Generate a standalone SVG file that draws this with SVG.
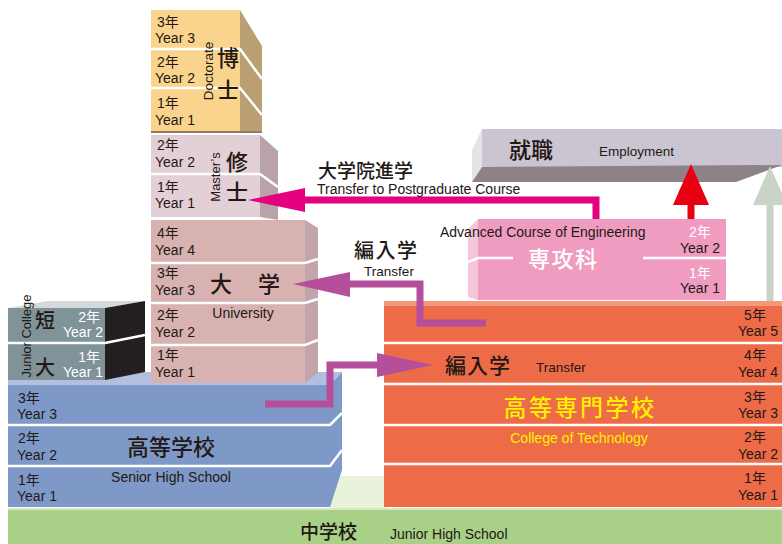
<svg xmlns="http://www.w3.org/2000/svg" width="782" height="544" viewBox="0 0 782 544">
<defs>
<style>
.t{font-family:"Liberation Sans","Noto Sans CJK JP",sans-serif;fill:#231815}
.y{font-size:14px}
.e{font-size:14px}
.j{font-family:"Noto Sans CJK JP",sans-serif;fill:#231815;font-weight:500}
.w{fill:#fff}
.d{stroke:#fff;stroke-width:2.5;fill:none}
.arr{fill:none;stroke-width:7;stroke-linejoin:miter}
</style>
</defs>
<rect width="782" height="544" fill="#fff"/>

<g id="junior-high">
<rect x="330" y="476" width="56" height="34" fill="#e9f2da"/>
<rect x="8" y="509" width="774" height="35" fill="#a9d087"/>
<rect x="8" y="508" width="774" height="2" fill="#d6e8c6"/>
<text class="j" x="300" y="539" font-size="19">中学校</text>
<text class="t e" x="390" y="539">Junior High School</text>
</g>

<g id="senior-high">
<polygon points="8,372 342,372 330,385 8,385" fill="#b3bfe0"/>
<rect x="8" y="385" width="322" height="122" fill="#7e98c7"/>
<polygon points="330,385 342,372 342,470 330,507" fill="#7e98c7"/>
<polyline class="d" points="8,425 330,425 342,413"/>
<polyline class="d" points="8,466 330,466 342,450"/>
<text class="t y" x="18" y="403">3年</text>
<text class="t y" x="17" y="419">Year 3</text>
<text class="t y" x="18" y="443">2年</text>
<text class="t y" x="17" y="460">Year 2</text>
<text class="t y" x="18" y="485">1年</text>
<text class="t y" x="17" y="501">Year 1</text>
<text class="j" x="171" y="455" font-size="22" text-anchor="middle">高等学校</text>
<text class="t e" x="171" y="482" text-anchor="middle">Senior High School</text>
</g>

<g id="junior-college">
<polygon points="8,308 105,308 145,301 48,301" fill="#d3d9db"/>
<rect x="8" y="308" width="97" height="72" fill="#7f9398"/>
<polygon points="105,308 145,301 145,372 105,380" fill="#231f20"/>
<line class="d" x1="8" y1="343" x2="105" y2="343"/>
<line class="d" x1="105" y1="343" x2="145" y2="335"/>
<text class="j" x="35" y="328" font-size="20">短</text>
<text class="j" x="35" y="375" font-size="20">大</text>
<text class="t y w" x="100" y="322" text-anchor="end">2年</text>
<text class="t y w" x="103" y="337" text-anchor="end">Year 2</text>
<text class="t y w" x="100" y="362" text-anchor="end">1年</text>
<text class="t y w" x="103" y="377" text-anchor="end">Year 1</text>
<text class="t" x="31" y="336" font-size="13" text-anchor="middle" transform="rotate(-90 31 336)">Junior College</text>
</g>

<g id="university">
<rect x="151" y="220" width="154" height="163" fill="#d7b2b1"/>
<polygon points="305,220 318,228 318,373 305,383" fill="#c2a5aa"/>
<polyline class="d" points="151,263 305,263 318,259"/>
<polyline class="d" points="151,303 305,303 318,299"/>
<polyline class="d" points="151,345 305,345 318,340"/>
<text class="t y" x="157" y="238">4年</text>
<text class="t y" x="155" y="255">Year 4</text>
<text class="t y" x="157" y="278">3年</text>
<text class="t y" x="155" y="295">Year 3</text>
<text class="t y" x="157" y="320">2年</text>
<text class="t y" x="155" y="337">Year 2</text>
<text class="t y" x="157" y="360">1年</text>
<text class="t y" x="155" y="377">Year 1</text>
<text class="j" x="210" y="292" font-size="22">大</text>
<text class="j" x="258" y="292" font-size="22">学</text>
<text class="t e" x="243" y="318" text-anchor="middle">University</text>
</g>

<g id="masters">
<rect x="151" y="135" width="109" height="82" fill="#e3cfd6"/>
<polygon points="260,135 278,151 278,220 260,217" fill="#b9a2a8"/>
<polyline class="d" points="151,174 260,174 278,187"/>
<text class="t y" x="157" y="150">2年</text>
<text class="t y" x="155" y="167">Year 2</text>
<text class="t y" x="157" y="192">1年</text>
<text class="t y" x="155" y="208">Year 1</text>
<text class="t" x="220" y="177" font-size="13" text-anchor="middle" transform="rotate(-90 220 177)">Master’s</text>
<text class="j" x="237" y="170" font-size="22" text-anchor="middle">修</text>
<text class="j" x="237" y="200" font-size="22" text-anchor="middle">士</text>
</g>

<g id="doctorate">
<rect x="151" y="10" width="89" height="122" fill="#fad48c"/>
<polygon points="240,10 262,46 262,132 240,132" fill="#b99f72"/>
<rect x="151" y="131" width="111" height="2" fill="#8f7d5e"/>
<polyline class="d" points="151,49 240,49 262,79"/>
<polyline class="d" points="151,88 240,88 262,115"/>
<text class="t y" x="157" y="27">3年</text>
<text class="t y" x="155" y="43">Year 3</text>
<text class="t y" x="157" y="67">2年</text>
<text class="t y" x="155" y="83">Year 2</text>
<text class="t y" x="157" y="108">1年</text>
<text class="t y" x="155" y="125">Year 1</text>
<text class="t" x="213" y="71" font-size="13.5" text-anchor="middle" transform="rotate(-90 213 71)">Doctorate</text>
<text class="j" x="228" y="66" font-size="22" text-anchor="middle">博</text>
<text class="j" x="228" y="98" font-size="22" text-anchor="middle">士</text>
</g>

<g id="employment">
<rect x="482" y="129" width="300" height="38" fill="#cbc4d1"/>
<polygon points="482,129 472,150 472,182 482,167" fill="#e5e2e8"/>
<polygon points="482,167 782,165 736,182 472,182" fill="#8e8289"/>
<text class="j" x="509" y="158" font-size="22">就職</text>
<text class="t" x="599" y="156" font-size="13.5">Employment</text>
</g>

<g id="advanced-course">
<polygon points="468,229 478,219 478,300 468,297" fill="#f5c6da"/>
<rect x="478" y="219" width="248" height="81" fill="#f09cc1"/>
<polyline class="d" points="468,262 478,258 513,258"/>
<line class="d" x1="643" y1="258" x2="726" y2="258"/>
<text class="t" x="440" y="237" font-size="14">Advanced Course of Engineering</text>
<text class="j w" x="528" y="267" font-size="22" letter-spacing="1.5">専攻科</text>
<text class="t y w" x="700" y="237" text-anchor="middle">2年</text>
<text class="t y" x="720" y="253" text-anchor="end">Year 2</text>
<text class="t y w" x="700" y="278" text-anchor="middle">1年</text>
<text class="t y" x="720" y="293" text-anchor="end">Year 1</text>
</g>

<g id="college-of-technology">
<rect x="384" y="301" width="398" height="6" fill="#f39a7c"/>
<rect x="384" y="306" width="398" height="201" fill="#ed6b47"/>
<line class="d" x1="384" y1="343" x2="782" y2="343"/>
<line class="d" x1="384" y1="384" x2="782" y2="384"/>
<line class="d" x1="384" y1="425" x2="782" y2="425"/>
<line class="d" x1="384" y1="464" x2="782" y2="464"/>
<text class="t y" x="755" y="320" text-anchor="middle">5年</text>
<text class="t y" x="778" y="336" text-anchor="end">Year 5</text>
<text class="t y" x="755" y="360" text-anchor="middle">4年</text>
<text class="t y" x="778" y="377" text-anchor="end">Year 4</text>
<text class="t y" x="755" y="402" text-anchor="middle">3年</text>
<text class="t y" x="778" y="418" text-anchor="end">Year 3</text>
<text class="t y" x="755" y="442" text-anchor="middle">2年</text>
<text class="t y" x="778" y="459" text-anchor="end">Year 2</text>
<text class="t y" x="755" y="483" text-anchor="middle">1年</text>
<text class="t y" x="778" y="500" text-anchor="end">Year 1</text>
<text class="j" x="445" y="373" font-size="21" letter-spacing="1">編入学</text>
<text class="t" x="536" y="372" font-size="13.5">Transfer</text>
<text class="j" x="580" y="416" font-size="23" letter-spacing="2.5" text-anchor="middle" style="fill:#fff000">高等専門学校</text>
<text class="t e" x="579" y="443" text-anchor="middle" style="fill:#fff000">College of Technology</text>
</g>

<g id="connectors">
<path class="arr" d="M691 219 V200" stroke="#e60012"/>
<polygon points="673,205 691,164 709,205" fill="#e60012"/>
<path class="arr" d="M770 301 V200" stroke="#c9d4c7"/>
<polygon points="753,205 770,166 787,205" fill="#c9d4c7"/>
<path class="arr" d="M596 219 V200 H302" stroke="#e4007f"/>
<polygon points="305,188 248,200 305,212" fill="#e4007f"/>
<path class="arr" d="M486 323 H420 V284 H348" stroke="#b64f9b"/>
<polygon points="350,272 293,284 350,297" fill="#b64f9b"/>
<path class="arr" d="M265 404 H330 V365 H380" stroke="#b64f9b"/>
<polygon points="377,353 433,365 377,377" fill="#b64f9b"/>
<text class="j" x="318" y="178" font-size="19">大学院進学</text>
<text class="t" x="317" y="194" font-size="14">Transfer to Postgraduate Course</text>
<text class="j" x="354" y="258" font-size="20" letter-spacing="1.5">編入学</text>
<text class="t" x="389" y="276" font-size="13.5" text-anchor="middle">Transfer</text>
</g>
</svg>
